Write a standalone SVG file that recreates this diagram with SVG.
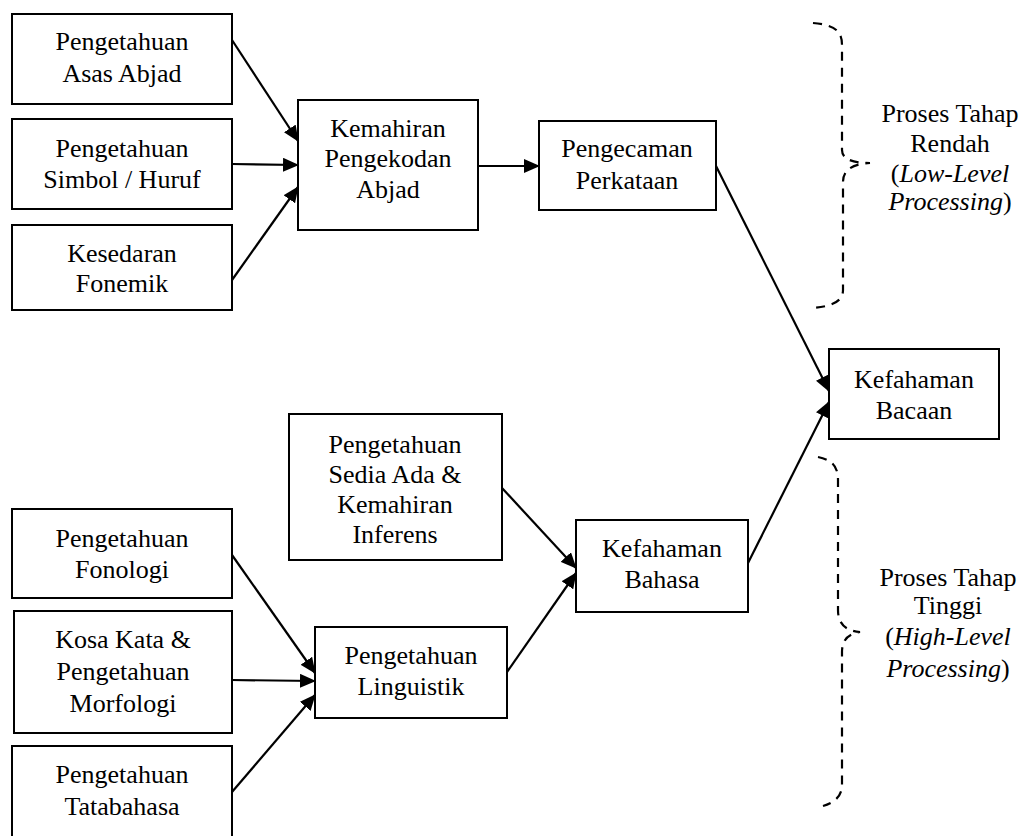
<svg xmlns="http://www.w3.org/2000/svg" width="1024" height="836" viewBox="0 0 1024 836">
<style>
.box{fill:#fff;stroke:#000;stroke-width:2}
.c{stroke:#000;stroke-width:2.2;fill:none;marker-end:url(#ah)}
.br{stroke:#000;stroke-width:2.2;fill:none;stroke-dasharray:9,7}
</style>
<defs>
<marker id="ah" markerUnits="userSpaceOnUse" markerWidth="16" markerHeight="14" viewBox="0 0 16 14" refX="15" refY="7" orient="auto">
<path d="M0,0 L16,7 L0,14 Z" fill="#000"/>
</marker>
</defs>
<rect width="1024" height="836" fill="#fff"/>
<g id="n1"><rect class="box" x="12" y="14" width="220" height="90"/><text font-family="Liberation Serif" font-size="26" text-anchor="middle" x="122" y="50">Pengetahuan</text><text font-family="Liberation Serif" font-size="26" text-anchor="middle" x="122" y="82">Asas Abjad</text></g>
<g id="n2"><rect class="box" x="12" y="119" width="220" height="90"/><text font-family="Liberation Serif" font-size="26" text-anchor="middle" x="122" y="157">Pengetahuan</text><text font-family="Liberation Serif" font-size="26" text-anchor="middle" x="122" y="188">Simbol / Huruf</text></g>
<g id="n3"><rect class="box" x="12" y="225" width="220" height="85"/><text font-family="Liberation Serif" font-size="26" text-anchor="middle" x="122" y="262">Kesedaran</text><text font-family="Liberation Serif" font-size="26" text-anchor="middle" x="122" y="292">Fonemik</text></g>
<g id="n4"><rect class="box" x="298" y="100" width="180" height="130"/><text font-family="Liberation Serif" font-size="26" text-anchor="middle" x="388" y="137">Kemahiran</text><text font-family="Liberation Serif" font-size="26" text-anchor="middle" x="388" y="167">Pengekodan</text><text font-family="Liberation Serif" font-size="26" text-anchor="middle" x="388" y="198">Abjad</text></g>
<g id="n5"><rect class="box" x="539" y="121" width="177" height="89"/><text font-family="Liberation Serif" font-size="26" text-anchor="middle" x="627" y="157">Pengecaman</text><text font-family="Liberation Serif" font-size="26" text-anchor="middle" x="627" y="189">Perkataan</text></g>
<g id="n6"><rect class="box" x="829" y="349" width="170" height="90"/><text font-family="Liberation Serif" font-size="26" text-anchor="middle" x="914" y="388">Kefahaman</text><text font-family="Liberation Serif" font-size="26" text-anchor="middle" x="914" y="419">Bacaan</text></g>
<g id="n7"><rect class="box" x="289" y="414" width="213" height="146"/><text font-family="Liberation Serif" font-size="26" text-anchor="middle" x="395" y="453">Pengetahuan</text><text font-family="Liberation Serif" font-size="26" text-anchor="middle" x="395" y="483">Sedia Ada &amp;</text><text font-family="Liberation Serif" font-size="26" text-anchor="middle" x="395" y="513">Kemahiran</text><text font-family="Liberation Serif" font-size="26" text-anchor="middle" x="395" y="543">Inferens</text></g>
<g id="n8"><rect class="box" x="576" y="520" width="172" height="92"/><text font-family="Liberation Serif" font-size="26" text-anchor="middle" x="662" y="557">Kefahaman</text><text font-family="Liberation Serif" font-size="26" text-anchor="middle" x="662" y="588">Bahasa</text></g>
<g id="n9"><rect class="box" x="315" y="627" width="192" height="91"/><text font-family="Liberation Serif" font-size="26" text-anchor="middle" x="411" y="664">Pengetahuan</text><text font-family="Liberation Serif" font-size="26" text-anchor="middle" x="411" y="695">Linguistik</text></g>
<g id="n10"><rect class="box" x="12" y="509" width="220" height="89"/><text font-family="Liberation Serif" font-size="26" text-anchor="middle" x="122" y="547">Pengetahuan</text><text font-family="Liberation Serif" font-size="26" text-anchor="middle" x="122" y="578">Fonologi</text></g>
<g id="n11"><rect class="box" x="14" y="611" width="218" height="122"/><text font-family="Liberation Serif" font-size="26" text-anchor="middle" x="123" y="648">Kosa Kata &amp;</text><text font-family="Liberation Serif" font-size="26" text-anchor="middle" x="123" y="680">Pengetahuan</text><text font-family="Liberation Serif" font-size="26" text-anchor="middle" x="123" y="712">Morfologi</text></g>
<g id="n12"><rect class="box" x="12" y="746" width="220" height="100"/><text font-family="Liberation Serif" font-size="26" text-anchor="middle" x="122" y="783">Pengetahuan</text><text font-family="Liberation Serif" font-size="26" text-anchor="middle" x="122" y="815">Tatabahasa</text></g>
<g id="connectors">
<line class="c" x1="232" y1="40" x2="298" y2="141"/>
<line class="c" x1="232" y1="164" x2="298" y2="165"/>
<line class="c" x1="232" y1="280" x2="298" y2="187"/>
<line class="c" x1="478" y1="166" x2="539" y2="166"/>
<line class="c" x1="716" y1="166" x2="829" y2="391"/>
<line class="c" x1="748" y1="563" x2="829" y2="402"/>
<line class="c" x1="502" y1="488" x2="576" y2="568"/>
<line class="c" x1="507" y1="672" x2="576" y2="573"/>
<line class="c" x1="232" y1="555" x2="315" y2="673"/>
<line class="c" x1="232" y1="680" x2="315" y2="681"/>
<line class="c" x1="232" y1="792" x2="315" y2="695"/>
</g>
<g id="brace-low">
<path class="br" d="M813,23 C835,25 842,31 842,45 L842,150 C842,158 850,163 870,163 C852,164 843,170 843,182 L843,290 C843,300 835,306 813,308"/>
<text font-family="Liberation Serif" font-size="26" text-anchor="middle" x="950" y="122">Proses Tahap</text>
<text font-family="Liberation Serif" font-size="26" text-anchor="middle" x="950" y="152">Rendah</text>
<text font-family="Liberation Serif" font-size="26" text-anchor="middle" x="950" y="182">(<tspan font-style="italic">Low-Level</tspan></text>
<text font-family="Liberation Serif" font-size="26" text-anchor="middle" x="950" y="210"><tspan font-style="italic">Processing</tspan>)</text>
</g>
<g id="brace-high">
<path class="br" d="M818,457 C833,460 838,467 838,480 L838,610 C838,624 846,631 860,632 C848,634 842,640 842,652 L842,785 C842,795 836,802 823,806"/>
<text font-family="Liberation Serif" font-size="26" text-anchor="middle" x="948" y="586">Proses Tahap</text>
<text font-family="Liberation Serif" font-size="26" text-anchor="middle" x="948" y="614">Tinggi</text>
<text font-family="Liberation Serif" font-size="26" text-anchor="middle" x="948" y="645">(<tspan font-style="italic">High-Level</tspan></text>
<text font-family="Liberation Serif" font-size="26" text-anchor="middle" x="948" y="677"><tspan font-style="italic">Processing</tspan>)</text>
</g>
</svg>
